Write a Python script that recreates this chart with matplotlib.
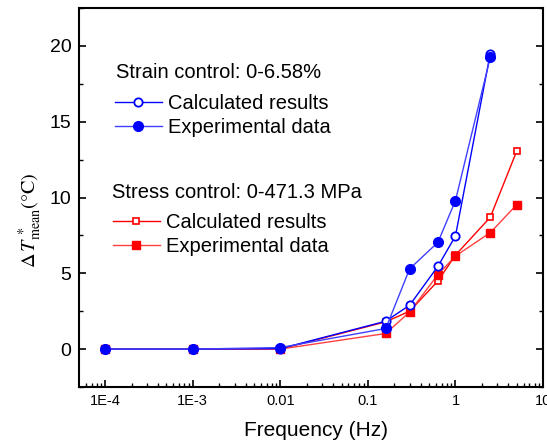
import numpy as np
import matplotlib.pyplot as plt
from matplotlib.ticker import FixedLocator, FixedFormatter, LogLocator, MultipleLocator

plt.rcParams['font.family'] = ['Liberation Sans', 'DejaVu Sans']
plt.rcParams['mathtext.fontset'] = 'stix'

# frequency (Hz)
freq_strain = [1e-4, 1e-3, 0.01, 0.16, 0.3, 0.63, 1, 2.5]
freq_stress = [1e-4, 1e-3, 0.01, 0.16, 0.3, 0.63, 1, 2.5, 5]

# strain control 0-6.58%
strain_calc = [0, 0, 0.03, 1.84, 2.9, 5.46, 7.46, 19.5]
strain_exp = [0, 0, 0.1, 1.36, 5.3, 7.04, 9.8, 19.25]

# stress control 0-471.3 MPa
stress_calc = [0, 0, 0, 1.8, 2.5, 4.49, 6.2, 8.7, 13.05]
stress_exp = [0, 0, 0, 1.03, 2.45, 4.91, 6.14, 7.68, 9.52]

xticks = [1e-4, 1e-3, 0.01, 0.1, 1, 10]
xticklabels = ['1E-4', '1E-3', '0.01', '0.1', '1', '10']

fig = plt.figure(figsize=(5.47, 4.46), dpi=100)
ax = fig.add_axes([0.1444, 0.1323, 0.8483, 0.8497])

# red first, blue on top (as in the original)
r1, = ax.plot(freq_stress, stress_calc, '-s', color='red', lw=1, ms=5,
              mfc='white', mec='red', mew=1.2)
r2, = ax.plot(freq_stress, stress_exp, '-s', color='#ff4040', lw=1, ms=5.5,
              mfc='red', mec='red')
b1, = ax.plot(freq_strain, strain_calc, '-o', color='blue', lw=1, ms=6,
              mfc='white', mec='blue', mew=1.3)
b2, = ax.plot(freq_strain, strain_exp, '-o', color='#4040ff', lw=1, ms=7,
              mfc='blue', mec='blue')

ax.set_xscale('log')
ax.set_xlim(10 ** -4.3, 10)
ax.set_ylim(-2.5, 22.5)
ax.xaxis.set_major_locator(FixedLocator(xticks))
ax.xaxis.set_major_formatter(FixedFormatter(xticklabels))
ax.xaxis.set_minor_locator(LogLocator(base=10, subs=np.arange(2, 10), numticks=20))
ax.yaxis.set_major_locator(MultipleLocator(5))
ax.yaxis.set_minor_locator(MultipleLocator(2.5))

ax.tick_params(which='both', direction='in', right=True, top=False)
ax.tick_params(which='major', length=5, width=1.2)
ax.tick_params(which='minor', length=3, width=1)
ax.tick_params(axis='x', labelsize=10.5, pad=5)
ax.tick_params(axis='y', labelsize=14, pad=5.5)
for s in ax.spines.values():
    s.set_linewidth(1.5)

ax.set_xlabel('Frequency (Hz)', fontsize=15)
ax.xaxis.set_label_coords(0.511, -0.09)
ax.set_ylabel(r'$\Delta\,\mathit{T}^{\,*}_{\rm mean}(°{\rm C})$', fontsize=14.5)
ax.yaxis.set_label_coords(-0.075, 0.44)

fs = 14.5
ax.text(0.08, 0.831, 'Strain control: 0-6.58%', transform=ax.transAxes,
        fontsize=fs, ha='left', va='center')
ax.text(0.071, 0.512, 'Stress control: 0-471.3 MPa', transform=ax.transAxes,
        fontsize=fs, ha='left', va='center')

leg1 = ax.legend([b1, b2], ['Calculated results', 'Experimental data'],
                 loc='center left', bbox_to_anchor=(0.077, 0.716),
                 frameon=False, fontsize=fs, handlelength=2.33,
                 handletextpad=0.3, labelspacing=0.25, borderpad=0,
                 borderaxespad=0)
ax.add_artist(leg1)
ax.legend([r1, r2], ['Calculated results', 'Experimental data'],
          loc='center left', bbox_to_anchor=(0.073, 0.402),
          frameon=False, fontsize=fs, handlelength=2.33,
          handletextpad=0.3, labelspacing=0.25, borderpad=0,
          borderaxespad=0)

fig.savefig('out.png', dpi=100)
